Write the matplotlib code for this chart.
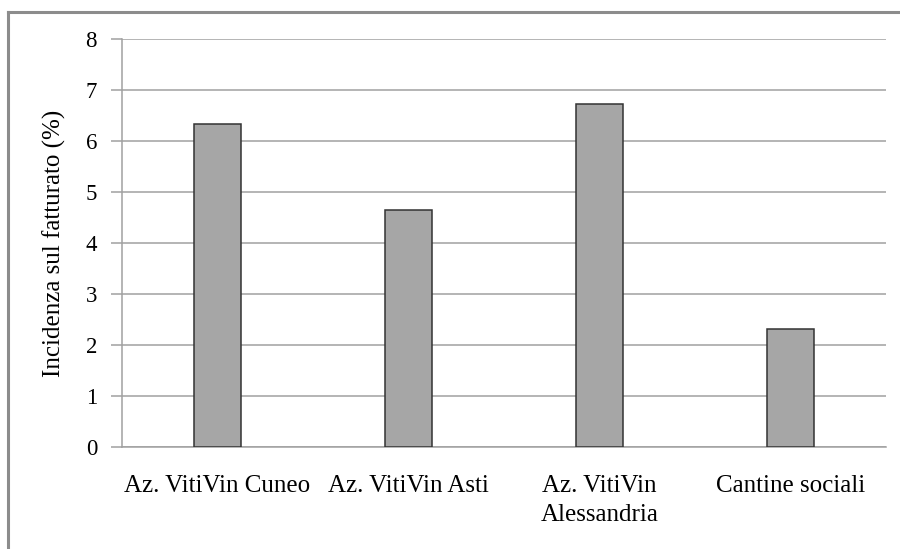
import matplotlib
matplotlib.use("Agg")
import matplotlib.pyplot as plt
from matplotlib.lines import Line2D

plt.rcParams['font.family'] = ['Liberation Serif', 'DejaVu Serif']

categories = ["Az. VitiVin Cuneo", "Az. VitiVin Asti", "Az. VitiVin\nAlessandria", "Cantine sociali"]
values = [6.33, 4.65, 6.72, 2.31]
yticks = [0, 1, 2, 3, 4, 5, 6, 7, 8]

fig = plt.figure(figsize=(9, 5.49), dpi=100)
ax = fig.add_axes([122 / 900, 1 - 447 / 549, (886 - 122) / 900, (447 - 39) / 549])

x = list(range(len(categories)))
ax.bar(x, values, width=0.246, color='#a6a6a6', edgecolor='#333333', linewidth=1.1, zorder=3)

ax.set_xlim(-0.5, len(categories) - 0.5)
ax.set_ylim(0, 8)
ax.set_yticks(yticks)
ax.set_yticklabels([str(t) for t in yticks], fontsize=16.5)
ax.set_xticks(x)
ax.set_xticklabels(categories, fontsize=18, linespacing=1.4)
ax.grid(axis='y', color='#a0a0a0', linewidth=1.1, zorder=0)
ax.tick_params(axis='y', length=8, width=1.1, color='#a0a0a0', pad=10)
ax.tick_params(axis='x', length=0, pad=20)
for side in ['top', 'right']:
    ax.spines[side].set_visible(False)
ax.spines['left'].set_color('#a0a0a0')
ax.spines['left'].set_linewidth(1.1)
ax.spines['bottom'].set_color('#a0a0a0')
ax.spines['bottom'].set_linewidth(1.1)
ax.set_ylabel('Incidenza sul fatturato (%)', fontsize=18, labelpad=14)

# outer chart border (only top and left visible in the original)
fig.add_artist(Line2D([8 / 900, 1.0], [1 - 12 / 549, 1 - 12 / 549], color='#8c8c8c', linewidth=2.2, transform=fig.transFigure))
fig.add_artist(Line2D([8 / 900, 8 / 900], [0.0, 1 - 12 / 549], color='#8c8c8c', linewidth=2.2, transform=fig.transFigure))

plt.savefig("out.png", dpi=100)
